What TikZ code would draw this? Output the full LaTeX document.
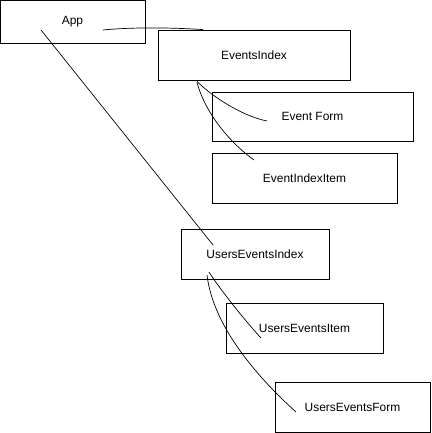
\documentclass[tikz,border=0pt]{standalone}
\usepackage{fontspec}
\setmainfont{Liberation Sans}
\begin{document}
\begin{tikzpicture}[x=1bp,y=-1bp,
    comp/.style={draw,rectangle,line width=0.8bp,inner sep=0pt,
      font=\fontsize{12}{14}\selectfont},
    link/.style={line width=0.7bp}]
  \useasboundingbox (0,0) rectangle (431,433);

  % Components
  \node[comp,minimum width=145bp,minimum height=43bp] (app) at (72.5,21.5) {App};
  \node[comp,minimum width=192bp,minimum height=50bp] (eventsindex) at (254,55) {EventsIndex};
  \node[comp,minimum width=201bp,minimum height=49bp] (eventform) at (312.5,116.5) {Event Form};
  \node[comp,minimum width=185bp,minimum height=50bp] (eventindexitem) at (304.5,178) {EventIndexItem};
  \node[comp,minimum width=148bp,minimum height=50bp] (userseventsindex) at (255,254) {UsersEventsIndex};
  \node[comp,minimum width=157bp,minimum height=50bp] (userseventsitem) at (304.5,328) {UsersEventsItem};
  \node[comp,minimum width=155bp,minimum height=50bp] (userseventsform) at (352.5,407) {UsersEventsForm};

  % Links from App
  \draw[link] ([xshift=30.5bp,yshift=-8.5bp]app.center)
    .. controls +(30,-3) and +(-30,-2) .. ([xshift=-51bp]eventsindex.north);
  \draw[link] ([xshift=-31.5bp,yshift=-8.5bp]app.center)
    -- ([xshift=-42bp,yshift=9bp]userseventsindex.center);

  % Links from EventsIndex
  \draw[link] ([xshift=-57bp,yshift=-1bp]eventsindex.south)
    .. controls +(15,15) and +(-25,-5) .. ([xshift=-45.5bp,yshift=-4.5bp]eventform.center);
  \draw[link] ([xshift=-57bp,yshift=-2bp]eventsindex.south)
    .. controls +(8,30) and +(-25,-18) .. ([xshift=-50.5bp,yshift=18bp]eventindexitem.center);

  % Links from UsersEventsIndex
  \draw[link] ([xshift=-46bp,yshift=-18bp]userseventsindex.center)
    .. controls +(10,16) and +(-15,-16) .. ([xshift=-43.5bp,yshift=-10bp]userseventsitem.center);
  \draw[link] ([xshift=-48bp,yshift=-21bp]userseventsindex.center)
    .. controls +(6,50) and +(-41,-37) .. ([xshift=-56.5bp,yshift=-5bp]userseventsform.center);
\end{tikzpicture}
\end{document}
